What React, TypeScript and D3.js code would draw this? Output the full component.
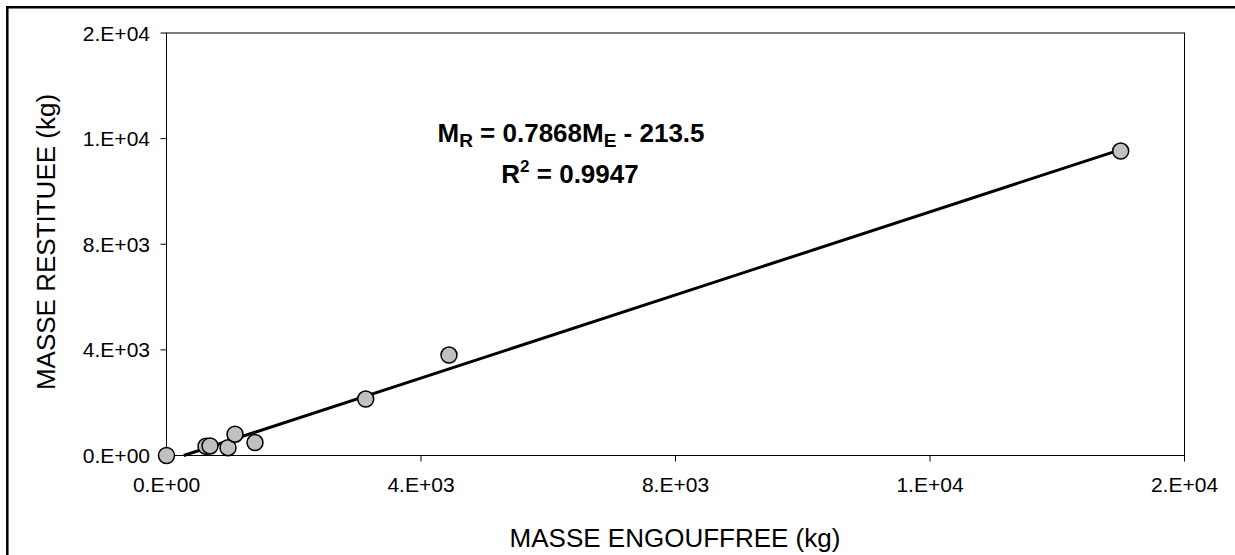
import React from "react";
import * as d3 from "d3";

const massEngouffree = [0, 621, 684, 967, 1077, 1391, 3131, 4440, 14997];
const massRestituee = [0, 348, 360, 295, 806, 492, 2139, 3805, 11530];
const tickValues = [0, 4000, 8000, 12000, 16000];
const tickLabels = ["0.E+00", "4.E+03", "8.E+03", "1.E+04", "2.E+04"];
const slope = 0.7868;
const intercept = -213.5;

const W = 1235;
const H = 555;
const FONT = "'Liberation Sans', Arial, sans-serif";

export default function App() {
  const x = d3.scaleLinear().domain([0, 16000]).range([166.5, 1184.5]);
  const y = d3.scaleLinear().domain([0, 16000]).range([455.5, 33]);
  const xMax = d3.max(massEngouffree) as number;
  const trend = d3
    .line<number>()
    .x((d) => x(d))
    .y((d) => y(slope * d + intercept));
  const x0 = -intercept / slope;
  const trendPts = [x0, xMax];

  return (
    <svg
      width={W}
      height={H}
      style={{ position: "absolute", left: 0, top: 0, background: "#fff", overflow: "hidden" }}
      fontFamily={FONT}
    >
      <rect x={0} y={0} width={W} height={H} fill="#fff" />
      {/* outer frame (left and top edges visible) */}
      <line x1={7.3} x2={7.3} y1={6} y2={H} stroke="#000" strokeWidth={2.5} />
      <line x1={6} x2={W} y1={7.3} y2={7.3} stroke="#000" strokeWidth={2.5} />
      {/* plot area border */}
      <rect
        x={x(0)}
        y={y(16000)}
        width={x(16000) - x(0)}
        height={y(0) - y(16000)}
        fill="none"
        stroke="#000"
        strokeWidth={1}
      />
      {/* y ticks */}
      {tickValues.map((v, i) => (
        <g key={"y" + i}>
          <line x1={x(0) - 6} x2={x(0)} y1={y(v)} y2={y(v)} stroke="#000" strokeWidth={1} />
          <text x={150} y={y(v)} dy="0.36em" textAnchor="end" fontSize={21} fill="#000">
            {tickLabels[i]}
          </text>
        </g>
      ))}
      {/* x ticks */}
      {tickValues.map((v, i) => (
        <g key={"x" + i}>
          <line x1={x(v)} x2={x(v)} y1={y(0)} y2={y(0) + 6} stroke="#000" strokeWidth={1} />
          <text x={x(v)} y={492} textAnchor="middle" fontSize={21} fill="#000">
            {tickLabels[i]}
          </text>
        </g>
      ))}
      {/* axis titles */}
      <text x={675} y={547} textAnchor="middle" fontSize={26} fill="#000">
        MASSE ENGOUFFREE (kg)
      </text>
      <text
        transform={`translate(55,242) rotate(-90)`}
        textAnchor="middle"
        fontSize={26}
        fill="#000"
      >
        MASSE RESTITUEE (kg)
      </text>
      {/* trendline */}
      <path d={trend(trendPts) || ""} fill="none" stroke="#000" strokeWidth={3} />
      {/* points */}
      {massEngouffree.map((v, i) => (
        <circle
          key={i}
          cx={x(v)}
          cy={y(massRestituee[i])}
          r={8}
          fill="#c0c0c0"
          stroke="#000"
          strokeWidth={1.5}
        />
      ))}
      {/* equation */}
      <text x={571} y={141.5} textAnchor="middle" fontSize={26} fontWeight="bold" fill="#000">
        M<tspan fontSize={19} dy={5}>R</tspan>
        <tspan dy={-5}> = 0.7868M</tspan>
        <tspan fontSize={19} dy={5}>E</tspan>
        <tspan dy={-5}> - 213.5</tspan>
      </text>
      <text x={570} y={183} textAnchor="middle" fontSize={26} fontWeight="bold" fill="#000">
        R<tspan fontSize={17} dy={-11}>2</tspan>
        <tspan dy={11}> = 0.9947</tspan>
      </text>
    </svg>
  );
}
